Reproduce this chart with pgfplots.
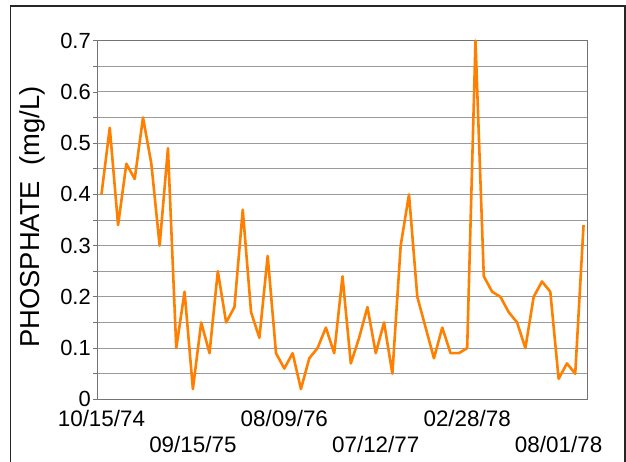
\documentclass[border=0pt]{standalone}
\usepackage{fontspec}
\setmainfont{Liberation Sans}
\usepackage{pgfplots}
\pgfplotsset{compat=1.18}
\definecolor{lineorange}{RGB}{255,128,0}
\definecolor{gridgray}{RGB}{155,155,155}
\definecolor{axgray}{RGB}{115,115,115}
\begin{document}
\begin{tikzpicture}[x=1bp,y=1bp]
\useasboundingbox (0,0) rectangle (626,462);
\draw[line width=1.1bp, black!85] (10.7,-2) -- (10.7,456) -- (625,456) -- (625,-2);
\begin{axis}[
  at={(97.3bp,62.7bp)}, anchor=south west,
  scale only axis, width=490.4bp, height=358.6bp,
  xmin=-0.5, xmax=58.5, ymin=0, ymax=0.7,
  clip=false,
  axis line style={axgray, line width=1bp},
  ytick={0,0.1,0.2,0.3,0.4,0.5,0.6,0.7},
  minor ytick={0.05,0.15,0.25,0.35,0.45,0.55,0.65},
  ymajorgrids, yminorgrids,
  major grid style={gridgray, line width=0.9bp},
  minor grid style={gridgray, line width=0.9bp},
  tick align=outside, ytick pos=left,
  major tick length=4bp, minor tick length=4bp,
  ytick style={axgray, line width=0.8bp},
  /pgf/number format/assume math mode=true,
  yticklabel style={font=\fontsize{22}{26}\selectfont, xshift=1bp, /pgf/number format/fixed, /pgf/number format/precision=1},
  xtick={0,22,44}, xticklabels={10/15/74,08/09/76,02/28/78},
  extra x ticks={11,33,55}, extra x tick labels={09/15/75,07/12/77,08/01/78},
  extra x tick style={xticklabel style={yshift=-30bp}, major tick length=0pt, grid=none},
  xtick style={draw=none}, xmajorgrids=false,
  xticklabel style={font=\fontsize{22.5}{27}\selectfont, yshift=-3bp},
  ylabel={PHOSPHATE\ \ (mg/L)},
  ylabel style={font=\fontsize{27.5}{32}\selectfont, at={(axis description cs:-0.133,0.508)}, anchor=center},
]
\addplot[lineorange, line width=2.6bp, mark=none, line join=round] coordinates {
(0,0.40) (1,0.53) (2,0.34) (3,0.46) (4,0.43) (5,0.55) (6,0.46) (7,0.30) (8,0.49) (9,0.10)
(10,0.21) (11,0.02) (12,0.15) (13,0.09) (14,0.25) (15,0.15) (16,0.18) (17,0.37) (18,0.17) (19,0.12)
(20,0.28) (21,0.09) (22,0.06) (23,0.09) (24,0.02) (25,0.08) (26,0.10) (27,0.14) (28,0.09) (29,0.24)
(30,0.07) (31,0.12) (32,0.18) (33,0.09) (34,0.15) (35,0.05) (36,0.30) (37,0.40) (38,0.20) (39,0.14)
(40,0.08) (41,0.14) (42,0.09) (43,0.09) (44,0.10) (45,0.70) (46,0.24) (47,0.21) (48,0.20) (49,0.17)
(50,0.15) (51,0.10) (52,0.20) (53,0.23) (54,0.21) (55,0.04) (56,0.07) (57,0.05) (58,0.34)
};
\end{axis}
\end{tikzpicture}
\end{document}
